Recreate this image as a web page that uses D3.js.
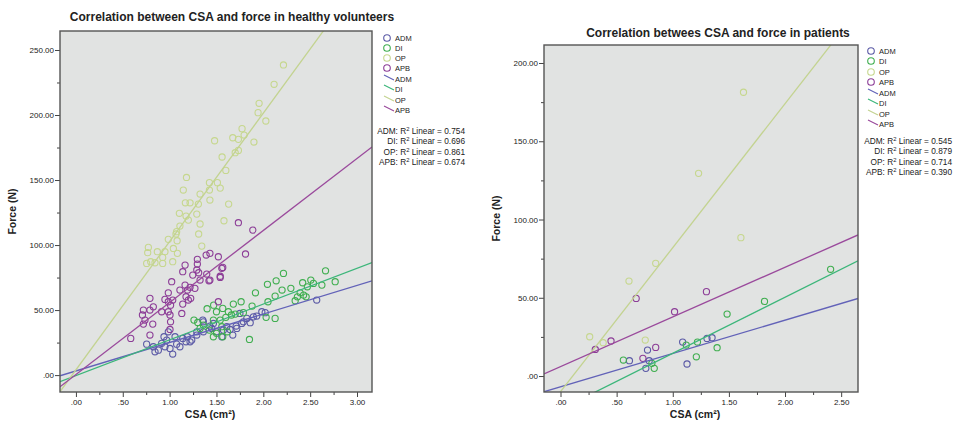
<!DOCTYPE html>
<html>
<head>
<meta charset="utf-8">
<script src="https://cdn.jsdelivr.net/npm/d3@7"></script>
<style>
  body { margin: 0; background: #fff; }
  svg { font-family: Arial, "Liberation Sans", sans-serif; }
</style>
</head>
<body>
<div class="container"></div>
<script>
const groups = ["ADM", "DI", "OP", "APB"];
const pointColors = ["#5b5aa6", "#3fae4f", "#c6d78e", "#8c3d97"];
const lineColors = ["#6262b8", "#3cb67a", "#c3d390", "#9a4a9c"];

// healthy volunteers: [CSA, force]
const healthyADM = [[0.755,23.8],[0.826,21.8],[0.844,17.9],[0.915,24.4],[0.94,29.5],[0.969,26.9],[0.95,21.8],[0.88,19.2],
  [1.004,20.5],[1.033,16.2],[1.075,23.8],[1.11,21.8],[1.175,25.6],[1.14,28.2],[1.058,29.5],[1.19,29.5],[1.218,25.6],
  [0.986,33.3],[1.29,30.8],[1.36,33.3],[1.45,35.9],[1.5,33.3],[1.61,37.2],[1.717,35.9],[1.77,39.7],[1.824,43.6],
  [1.894,44.8],[1.36,41],[1.467,39.7],[1.236,26.9],[1.29,33.3],[1.354,42.3],[1.43,37.7],[1.557,29.5],[1.645,35.1],
  [1.71,37.7],[1.787,41],[1.86,40.3],[1.93,45.4],[1.984,48.7],[2.02,48],[2.57,57.7],[1.574,34.6],[1.674,30.8],[1.75,47.4]];
const healthyDI = [[2.664,80.2],[2.215,78.2],[2.507,73.1],[2.42,71],[2.137,72.5],[2.044,69.8],[2.767,71.8],[2.625,69.2],
  [2.535,70.5],[2.47,67.9],[2.294,66.7],[2.393,63.3],[2.43,61.5],[2.364,60.2],[2.457,60.2],[2.34,57.2],[2.126,60.8],
  [2.2,65.4],[1.916,63.3],[1.763,56.4],[2.05,56.4],[1.68,54.6],[1.88,53.1],[2.126,43.6],[1.852,27.4],[2.03,44.4],
  [1.47,53.8],[1.567,51.3],[1.627,48.7],[1.66,46.2],[1.5,48.7],[1.54,42.3],[1.6,44.4],[1.7,46.9],[1.26,42.3],
  [1.36,38.5],[1.467,42.3],[1.557,37.2],[1.424,34.6],[1.5,32.1],[1.567,29.5],[1.467,29.5],[1.617,33.3],[1.325,35.9],
  [1.787,48],[1.3,40.5],[1.4,51]];
const healthyOP = [[2.215,238.5],[2.115,223.6],[1.955,209],[1.944,201.8],[2.027,195.4],[1.773,189.5],[1.674,182.5],
  [1.734,181.3],[1.795,184.6],[1.9,179.2],[1.48,180.2],[1.56,167.7],[1.7,171],[1.734,172.8],[1.6,157.4],[1.18,152],
  [1.146,142.3],[1.425,148],[1.51,148],[1.54,143.8],[1.425,142.3],[1.325,139.2],[1.43,134.6],[1.63,131.5],[1.168,132.5],
  [1.218,132.5],[1.307,131.5],[1.104,124.4],[1.175,122.3],[1.2,119.2],[1.29,123.8],[1.325,116.2],[1.58,118.7],
  [1.11,114.6],[1.075,110.3],[1.068,108.5],[1.31,108.5],[0.986,104.4],[1.08,103.3],[1.343,99.2],[0.773,98.2],
  [1.04,97.4],[0.869,94.9],[0.95,94.9],[0.766,94.1],[1.083,93.6],[0.926,90.5],[0.798,87.2],[0.844,86.4],[0.755,85.9],
  [0.926,85.9],[1.033,87.2]];
const healthyAPB = [[1.734,117.2],[1.888,111.5],[1.81,93.1],[1.43,93.6],[1.39,92.3],[1.52,91],[1.296,89],[1.296,85.4],
  [1.165,84.6],[1.557,82.1],[1.14,79.5],[1.29,80.8],[1.31,78.7],[1.247,76.9],[1.396,77.7],[1.43,73.1],[1.54,75.1],
  [1.325,73.1],[1.022,71.8],[1.165,69.2],[1.218,67.5],[1.27,66.7],[1.19,65.4],[1.11,65.4],[0.986,63.3],[1.175,60.3],
  [1.225,59],[0.79,59],[0.95,58.2],[1.033,57.7],[1.2,57.7],[0.826,52.5],[0.986,56.4],[1.01,53.8],[1.14,54.6],[0.72,50],
  [0.79,50],[0.915,48.7],[0.986,48.7],[1.004,46.2],[1.13,47.4],[0.71,46.2],[0.737,42.3],[0.72,39.2],[0.82,39.2],
  [1.01,41],[0.79,30.8],[0.585,28.2],[1.004,35.1],[1.567,82.8],[1.54,76],[1.42,72.5],[1.52,56.4]];

// patients: [CSA, force]
const patientsADM = [[0.775,16.6],[1.088,21.7],[1.305,24],[1.35,24.5],[1.127,7.7],[0.79,9.8],[0.76,4.9],[0.614,9.8]];
const patientsDI = [[2.406,68.2],[1.817,47.7],[1.484,39.6],[1.395,18.1],[1.22,21.7],[1.12,19.8],[1.21,12.3],[0.56,10.2],
  [0.835,4.9],[0.814,8.1]];
const patientsOP = [[1.607,88.4],[0.848,72],[0.61,60.7],[0.26,25.1],[0.38,21.3],[0.755,23],[1.63,181.3],[1.23,129.5]];
const patientsAPB = [[0.31,17],[0.45,22.4],[0.674,49.6],[1.016,41.1],[1.3,53.9],[0.848,18.3],[0.734,11.3]];

// fit lines: [intercept, slope]
const healthyFit = [[3.2,21.9],[-0.4,27.5],[4.0,98.7],[0.4,55.4]];
const patientsFit = [[-6.9,21.3],[-21.3,35.8],[-10,92],[6.0,31.75]];
const healthyR2 = ["0.754","0.696","0.861","0.674"];
const patientsR2 = ["0.545","0.879","0.714","0.390"];
const r2Names = ["ADM:", "DI:", "OP:", "APB:"];

const healthyXTicks = [0, 0.5, 1, 1.5, 2, 2.5, 3];
const healthyYTicks = [0, 50, 100, 150, 200, 250];
const patientsXTicks = [0, 0.5, 1, 1.5, 2, 2.5];
const patientsYTicks = [0, 50, 100, 150, 200];

const width = 954;
const height = 422;

const svg = d3.select("div.container")
    .append("svg")
    .attr("width", width)
    .attr("height", height);

svg.append("rect").attr("width", width).attr("height", height).attr("fill", "#fff");

const fmt = v => d3.format(".2f")(v).replace(/^0\./, ".");

function drawPanel(p) {
    const x = d3.scaleLinear().domain(p.xDomain).range([p.x0, p.x1]);
    const y = d3.scaleLinear().domain(p.yDomain).range([p.y1, p.y0]);

    svg.append("rect")
        .attr("x", p.x0).attr("y", p.y0)
        .attr("width", p.x1 - p.x0).attr("height", p.y1 - p.y0)
        .attr("fill", "#e1e3e2");

    svg.append("clipPath").attr("id", p.id + "clip")
        .append("rect")
        .attr("x", p.x0).attr("y", p.y0)
        .attr("width", p.x1 - p.x0).attr("height", p.y1 - p.y0);

    const plot = svg.append("g").attr("clip-path", "url(#" + p.id + "clip)");

    p.points.forEach(function(pts, i) {
        plot.append("g")
            .selectAll("circle")
            .data(pts)
            .enter()
            .append("circle")
            .attr("cx", d => x(d[0]))
            .attr("cy", d => y(d[1]))
            .attr("r", 3.1)
            .attr("fill", "none")
            .attr("stroke", pointColors[i])
            .attr("stroke-width", 1.1);
    });

    p.fits.forEach(function(f, i) {
        plot.append("line")
            .attr("x1", x(p.xDomain[0])).attr("y1", y(f[0] + f[1] * p.xDomain[0]))
            .attr("x2", x(p.xDomain[1])).attr("y2", y(f[0] + f[1] * p.xDomain[1]))
            .attr("stroke", lineColors[i])
            .attr("stroke-width", 1.3);
    });

    // axes
    const xMinor = d3.range(p.xTicks[0] - 0.25, p.xDomain[1], 0.5).filter(v => v > p.xDomain[0]);
    const yMinor = d3.range(p.yTicks[0] - 25, p.yDomain[1], 50).filter(v => v > p.yDomain[0]);

    svg.append("g")
        .attr("transform", "translate(0," + p.y1 + ")")
        .call(d3.axisBottom(x).tickValues(p.xTicks).tickFormat(fmt).tickSize(5).tickPadding(2));
    svg.append("g")
        .attr("transform", "translate(0," + p.y1 + ")")
        .call(d3.axisBottom(x).tickValues(xMinor).tickFormat("").tickSize(3));

    svg.append("g")
        .attr("transform", "translate(" + p.x0 + ",0)")
        .call(d3.axisLeft(y).tickValues(p.yTicks).tickFormat(fmt).tickSize(5).tickPadding(1));
    svg.append("g")
        .attr("transform", "translate(" + p.x0 + ",0)")
        .call(d3.axisLeft(y).tickValues(yMinor).tickFormat("").tickSize(3));

    svg.selectAll(".domain").remove();
    svg.selectAll(".tick line").attr("stroke", "#444");
    svg.selectAll(".tick text").attr("font-size", 8).attr("fill", "#222")
        .attr("font-family", "Arial, 'Liberation Sans', sans-serif");

    svg.append("rect")
        .attr("x", p.x0).attr("y", p.y0)
        .attr("width", p.x1 - p.x0).attr("height", p.y1 - p.y0)
        .attr("fill", "none").attr("stroke", "#555").attr("stroke-width", 1.4);

    svg.append("text")
        .attr("x", p.titleX).attr("y", p.titleY)
        .attr("text-anchor", "middle")
        .attr("font-size", 12).attr("font-weight", "bold").attr("fill", "#222")
        .text(p.title);

    svg.append("text")
        .attr("x", (p.x0 + p.x1) / 2 - 6).attr("y", 418)
        .attr("text-anchor", "middle")
        .attr("font-size", 10.5).attr("font-weight", "bold").attr("fill", "#222")
        .text("CSA (cm²)");

    svg.append("text")
        .attr("transform", "translate(" + p.yLabelX + "," + ((p.y0 + p.y1) / 2) + ") rotate(-90)")
        .attr("text-anchor", "middle")
        .attr("font-size", 10.5).attr("font-weight", "bold").attr("fill", "#222")
        .text("Force (N)");

    // legend
    const lg = svg.append("g").attr("font-size", 7.5).attr("fill", "#222");
    groups.forEach(function(g, i) {
        const cy = p.legendY[i];
        lg.append("circle").attr("cx", p.legendX + 4).attr("cy", cy)
            .attr("r", 3.3).attr("fill", "none")
            .attr("stroke", pointColors[i]).attr("stroke-width", 1.1);
        lg.append("text").attr("x", p.legendX + 12).attr("y", cy + 3).text(g);
    });
    groups.forEach(function(g, i) {
        const cy = p.legendLineY[i];
        lg.append("line")
            .attr("x1", p.legendX + 1).attr("y1", cy - 4)
            .attr("x2", p.legendX + 11).attr("y2", cy + 1)
            .attr("stroke", lineColors[i]).attr("stroke-width", 1.2);
        lg.append("text").attr("x", p.legendX + 12).attr("y", cy + 3).text(g);
    });
    p.r2.forEach(function(r, i) {
        const t = lg.append("text")
            .attr("x", p.r2X).attr("y", p.r2Y[i])
            .attr("text-anchor", "end")
            .attr("font-size", 8.3);
        t.append("tspan").text(r2Names[i] + " R");
        t.append("tspan").attr("dy", -3).attr("font-size", 5.8).text("2");
        t.append("tspan").attr("dy", 3).text(" Linear = " + r);
    });
}

drawPanel({
    id: "healthy",
    x0: 60, x1: 372, y0: 31, y1: 392,
    xDomain: [-0.17, 3.16], yDomain: [-13, 264.6],
    xTicks: healthyXTicks, yTicks: healthyYTicks,
    points: [healthyADM, healthyDI, healthyOP, healthyAPB],
    fits: healthyFit, r2: healthyR2,
    title: "Correlation between CSA and force in healthy volunteers",
    titleX: 232, titleY: 21,
    yLabelX: 16,
    legendX: 383, legendY: [38, 48, 58, 68], legendLineY: [79, 89, 100, 110],
    r2X: 465, r2Y: [134, 144, 155, 165]
});

drawPanel({
    id: "patients",
    x0: 544, x1: 858, y0: 45, y1: 392,
    xDomain: [-0.147, 2.65], yDomain: [-10.2, 211.5],
    xTicks: patientsXTicks, yTicks: patientsYTicks,
    points: [patientsADM, patientsDI, patientsOP, patientsAPB],
    fits: patientsFit, r2: patientsR2,
    title: "Correlation betwees CSA and force in patients",
    titleX: 718, titleY: 37,
    yLabelX: 500,
    legendX: 867, legendY: [51, 61, 72, 82], legendLineY: [93, 103, 114, 124],
    r2X: 952, r2Y: [144, 154, 165, 175]
});
</script>
</body>
</html>
